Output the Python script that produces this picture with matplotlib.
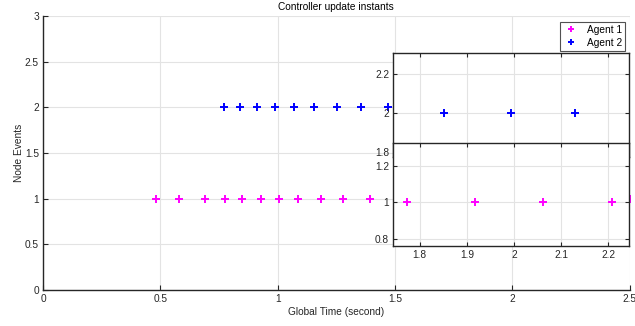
import matplotlib
matplotlib.use("Agg")
import matplotlib.pyplot as plt
from matplotlib.ticker import FuncFormatter

plt.rcParams['font.family'] = ['Liberation Sans', 'DejaVu Sans']

# Data (event instants)
agent1_t = [0.481, 0.579, 0.690, 0.776, 0.848, 0.929, 1.006, 1.087, 1.184,
            1.278, 1.393, 1.774, 1.918, 2.061, 2.209, 2.50]
agent2_t = [0.771, 0.839, 0.912, 0.989, 1.069, 1.155, 1.253, 1.355, 1.470,
            1.851, 1.993, 2.130]
agent1_level = 1
agent2_level = 2
labels = ["Agent 1", "Agent 2"]
title = "Controller update instants"
xlabel = "Global Time (second)"
ylabel = "Node Events"
main_xticks = [0, 0.5, 1, 1.5, 2, 2.5]
main_yticks = [0, 0.5, 1, 1.5, 2, 2.5, 3]
inset_xticks = [1.8, 1.9, 2.0, 2.1, 2.2]
top_yticks = [1.8, 2.0, 2.2]
bot_yticks = [0.8, 1.0, 1.2]

c1 = (1, 0, 1)
c2 = (0, 0, 1)
axc = '#262626'
gridc = '#e3e3e3'
fs = 7.3
fmt = FuncFormatter(lambda v, p: f"{v:g}")

fig = plt.figure(figsize=(6.35, 3.26), dpi=100)

W, H = 635, 326
def rect(x0, y0, x1, y1):
    return [x0 / W, 1 - y1 / H, (x1 - x0) / W, (y1 - y0) / H]

mk = dict(marker='+', linestyle='none', markersize=5.5, markeredgewidth=1.4)

# Main axes
ax = fig.add_axes(rect(43, 16, 629.5, 290))
ax.plot(agent1_t, [agent1_level] * len(agent1_t), color=c1, label=labels[0], **mk)
ax.plot(agent2_t, [agent2_level] * len(agent2_t), color=c2, label=labels[1], **mk)
ax.set_xlim(0, 2.5)
ax.set_ylim(0, 3)
ax.set_xticks(main_xticks)
ax.set_yticks(main_yticks)
ax.xaxis.set_major_formatter(fmt)
ax.yaxis.set_major_formatter(fmt)
ax.grid(True, color=gridc, linewidth=0.8)
ax.set_axisbelow(True)
for s in ['top', 'right']:
    ax.spines[s].set_visible(False)
for s in ['left', 'bottom']:
    ax.spines[s].set_color(axc)
    ax.spines[s].set_linewidth(1.0)
ax.tick_params(direction='in', length=3.5, width=0.8, colors=axc, labelsize=fs, pad=3)
ax.set_title(title, fontsize=fs, color='black', pad=4)
ax.set_xlabel(xlabel, fontsize=fs, color=axc, labelpad=2)
ax.set_ylabel(ylabel, fontsize=fs, color=axc, labelpad=0.5)
leg = ax.legend(loc='upper right', fontsize=fs, frameon=True, fancybox=False,
                bbox_to_anchor=(1 - 4.5 / 586.5, 1 - 6 / 274), borderaxespad=0,
                handlelength=1.5, handletextpad=0.8,
                borderpad=0.3, labelspacing=0.25, markerscale=0.9)
leg.get_frame().set_edgecolor(axc)
leg.get_frame().set_linewidth(0.8)

def style_inset(a, yt, xlabels):
    a.set_xlim(1.744, 2.245)
    a.set_xticks(inset_xticks)
    a.set_yticks(yt)
    a.xaxis.set_major_formatter(fmt)
    a.yaxis.set_major_formatter(fmt)
    a.grid(True, color=gridc, linewidth=0.8)
    a.set_axisbelow(True)
    for s in a.spines.values():
        s.set_color(axc)
        s.set_linewidth(1.0)
    a.tick_params(direction='in', length=3, width=0.8, colors=axc, labelsize=fs,
                  top=True, right=True, labelbottom=xlabels, pad=3)

# Top inset (Agent 2 zoom)
axt = fig.add_axes(rect(393.3, 52.7, 629.3, 157))
axt.plot(agent2_t, [agent2_level] * len(agent2_t), color=c2, **mk)
axt.set_ylim(1.777, 2.31)
style_inset(axt, top_yticks, False)

# Bottom inset (Agent 1 zoom)
axb = fig.add_axes(rect(393.3, 143, 629.3, 246))
axb.plot(agent1_t, [agent1_level] * len(agent1_t), color=c1, **mk)
axb.set_ylim(0.764, 1.322)
style_inset(axb, bot_yticks, True)

fig.savefig("out.png", dpi=100)
